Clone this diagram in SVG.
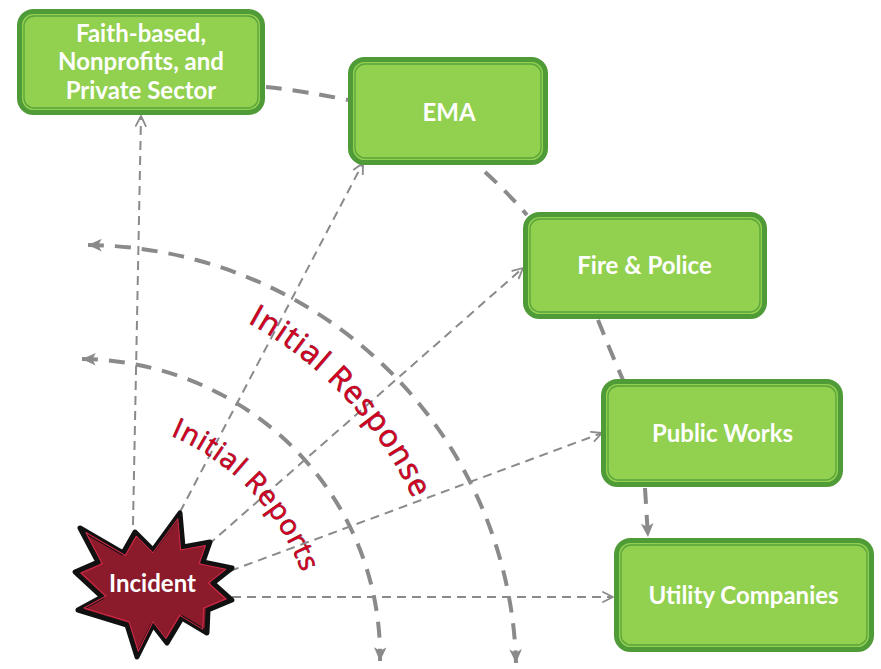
<svg xmlns="http://www.w3.org/2000/svg" width="881" height="669" viewBox="0 0 881 669">
<style>
.thin{fill:none;stroke:#8a8a8a;stroke-width:2;stroke-dasharray:9 6}
.thick{fill:none;stroke:#8a8a8a;stroke-width:4;stroke-dasharray:16 11}
.box{fill:#92d050;stroke:#4f9b37;stroke-width:5}
.inner{fill:none;stroke:#4f9b37;stroke-width:1.3;opacity:.85}
.lbl{font-family:Lato,"Open Sans","Liberation Sans",sans-serif;font-weight:700;font-size:24px;fill:#ffffff;text-anchor:middle}
.curve{font-family:"Open Sans","Liberation Sans",sans-serif;fill:#d2001e;stroke:#5e2040;stroke-width:.7;paint-order:stroke}
</style>
<defs>
<marker id="openArrow" markerUnits="userSpaceOnUse" markerWidth="14" markerHeight="14" viewBox="0 0 14 14" refX="12" refY="7" orient="auto">
<path d="M2,2 L12,7 L2,12" fill="none" stroke="#8a8a8a" stroke-width="1.8" stroke-linecap="round" stroke-linejoin="round"/>
</marker>
<marker id="thickArrow" markerUnits="userSpaceOnUse" markerWidth="16" markerHeight="16" viewBox="0 0 14 14" refX="13" refY="7" orient="auto-start-reverse">
<path d="M1,1.5 L13,7 L1,12.5 L4,7 Z" fill="#8a8a8a"/>
</marker>
<path id="pResponse" d="M220.6,309.3 A385,385 0 0,1 443.1,594.1"/>
<path id="pReports" d="M151.9,428.7 A239,239 0 0,1 313.4,614.5"/>
</defs>
<rect width="881" height="669" fill="#ffffff"/>
<g id="connectors">
<path class="thin" d="M133,525 L141,116" marker-end="url(#openArrow)"/>
<path class="thin" d="M180,512 L363,163" marker-end="url(#openArrow)"/>
<path class="thin" d="M208,545 L523,268" marker-end="url(#openArrow)"/>
<path class="thin" d="M230,571 L602,433" marker-end="url(#openArrow)"/>
<path class="thin" d="M232,597 L613,597" marker-end="url(#openArrow)"/>
<path class="thick" d="M88,245 A433,430 0 0,1 516,663" marker-start="url(#thickArrow)" marker-end="url(#thickArrow)"/>
<path class="thick" d="M82,359 A302,297 0 0,1 380,661" marker-start="url(#thickArrow)" marker-end="url(#thickArrow)"/>
<path class="thick" d="M266,87 Q305,91 348,100"/>
<path class="thick" d="M485,172 Q507,192 527,215"/>
<path class="thick" d="M598,320 Q610,350 623,380"/>
<path class="thick" d="M645,488 L648,537" marker-end="url(#thickArrow)"/>
</g>
<g id="labels">
<text class="curve" font-size="31" letter-spacing="1.2"><textPath href="#pResponse" startOffset="30">Initial Response</textPath></text>
<text class="curve" font-size="28" letter-spacing="1"><textPath href="#pReports" startOffset="20">Initial Reports</textPath></text>
</g>
<g id="node-faith">
<rect class="box" x="19.5" y="11.5" width="243" height="101" rx="14"/>
<rect class="inner" x="24" y="16" width="234" height="92" rx="10"/>
<text class="lbl" x="141" y="42">Faith-based,</text>
<text class="lbl" x="141" y="70">Nonprofits, and</text>
<text class="lbl" x="141" y="99">Private Sector</text>
</g>
<g id="node-ema">
<rect class="box" x="350.5" y="59.5" width="195" height="103" rx="14"/>
<rect class="inner" x="355" y="64" width="186" height="94" rx="10"/>
<text class="lbl" x="449" y="121">EMA</text>
</g>
<g id="node-fire">
<rect class="box" x="525.5" y="214.5" width="239" height="102" rx="14"/>
<rect class="inner" x="530" y="219" width="230" height="93" rx="10"/>
<text class="lbl" x="644.5" y="274">Fire &amp; Police</text>
</g>
<g id="node-publicworks">
<rect class="box" x="603.5" y="381.5" width="237" height="103" rx="14"/>
<rect class="inner" x="608" y="386" width="228" height="94" rx="10"/>
<text class="lbl" x="722.5" y="442">Public Works</text>
</g>
<g id="node-utility">
<rect class="box" x="616.5" y="540.5" width="255" height="109" rx="14"/>
<rect class="inner" x="621" y="545" width="246" height="100" rx="10"/>
<text class="lbl" x="743.5" y="604">Utility Companies</text>
</g>
<g id="node-incident">
<polygon points="80,528 123,553 135,532 153,550 180,513 183,547 210,542 203,562 232,568 213,583 232,600 208,610 207,633 182,618 167,643 153,625 137,657 127,625 78,610 102,597 75,572 98,562" fill="#8b1a2b" stroke="#111111" stroke-width="5" stroke-linejoin="round"/>
<polygon points="80,528 123,553 135,532 153,550 180,513 183,547 210,542 203,562 232,568 213,583 232,600 208,610 207,633 182,618 167,643 153,625 137,657 127,625 78,610 102,597 75,572 98,562" fill="none" stroke="#d02a48" stroke-width="1.1" stroke-linejoin="round" transform="translate(153 585) scale(0.92) translate(-153 -585)"/>
<text class="lbl" x="152.5" y="592">Incident</text>
</g>
</svg>
